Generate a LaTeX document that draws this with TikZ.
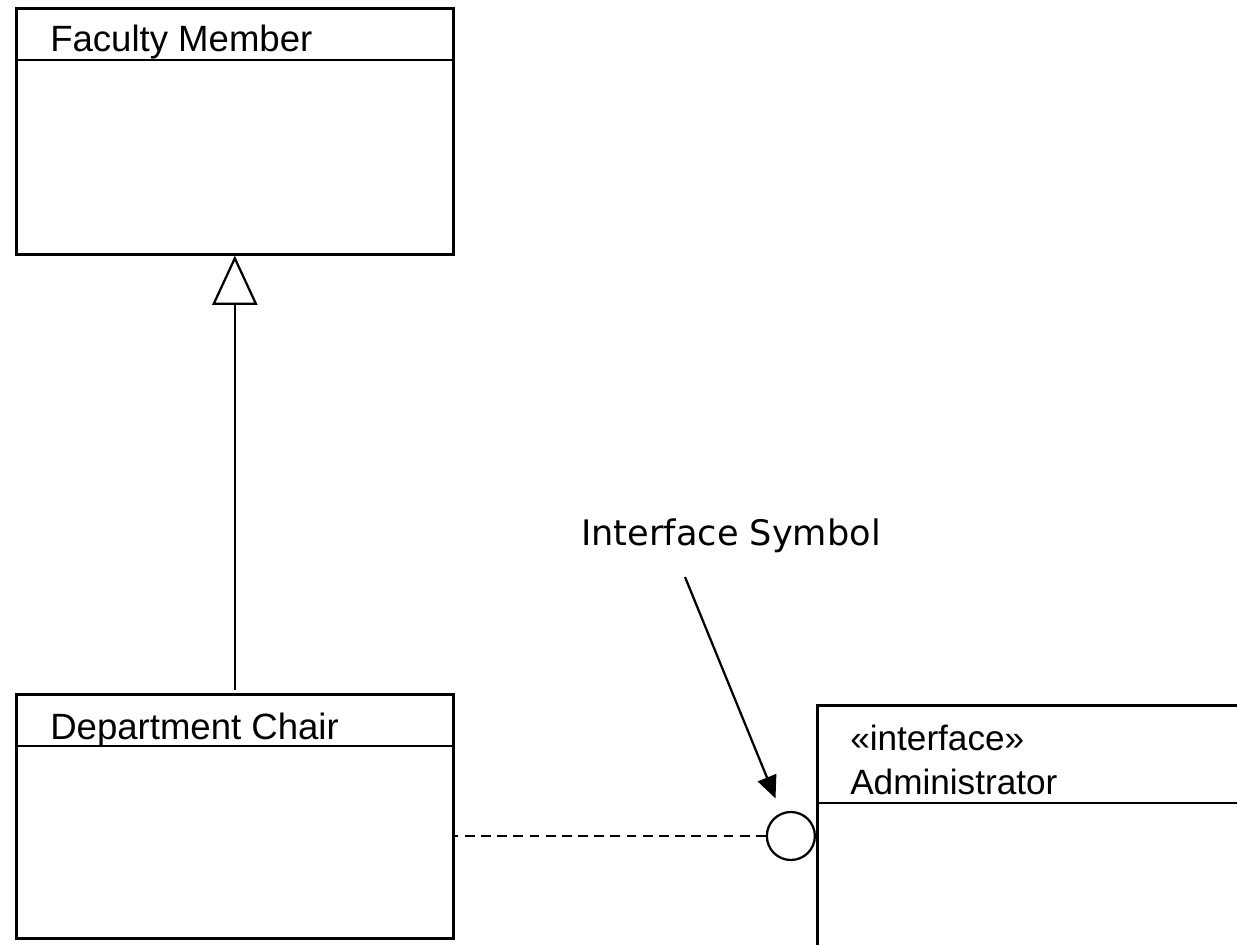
\documentclass[tikz,border=0pt]{standalone}
\usepackage{fontspec}
\setmainfont{Liberation Sans}
\newfontfamily\notefont{DejaVu Sans}
\usetikzlibrary{calc,arrows.meta}

\tikzset{
  classbox/.style={draw,line width=1.8pt,inner sep=0pt,anchor=north west},
  classname/.style={anchor=base west,inner sep=0pt,font=\fontsize{26}{30}\selectfont},
  divider/.style={line width=1.8pt},
}

\begin{document}
\begin{tikzpicture}[x=0.025cm,y=-0.025cm]
\path[use as bounding box] (0,0) rectangle (1237,945);

% Classe Faculty Member
\node[classbox,minimum width=10.925cm,minimum height=6.15cm] (fac) at (15,7) {};
\draw[divider] ($(fac.north west)+(0,53)$) -- ($(fac.north east)+(0,53)$);
\node[classname] (facname) at (50,52) {Faculty Member};

% Classe Department Chair
\node[classbox,minimum width=10.925cm,minimum height=6.1cm] (dept) at (15,693) {};
\draw[divider] ($(dept.north west)+(0,53)$) -- ($(dept.north east)+(0,53)$);
\node[classname] (deptname) at (50,739) {Department Chair};

% Interface Administrator (coupée par le bord)
\node[classbox,minimum width=11.25cm,minimum height=6.5cm] (admin) at (816,704) {};
\draw[divider] ($(admin.north west)+(0,99)$) -- ($(admin.north east)+(0,99)$);
\node[classname,font=\fontsize{25}{31}\selectfont,align=left,anchor=north west] (adminname) at (850,725) {«interface»\\Administrator};

% Symbole d'interface (sucette)
\node[circle,draw,line width=1.6pt,minimum size=1.2cm,inner sep=0pt,anchor=east] (iface) at ($(admin.north west)+(0,132)$) {};

% Héritage
\draw[line width=1.6pt,shorten <=2pt,-{Triangle[open,length=35pt,width=32pt,line width=1.6pt]}] (dept.north) -- (fac.south);

% Réalisation
\draw[line width=1.6pt,dash pattern=on 7pt off 4.5pt] (iface.west) -- (iface.west -| dept.east);

% Note
\node[anchor=base west,inner sep=0pt,font=\notefont\fontsize{25}{30}\selectfont] (note) at (581,545) {Interface Symbol};
\coordinate (tail) at (685,577);
\draw[line width=1.6pt,-{Triangle[length=16pt,width=14pt]},shorten >=11pt] (tail) -- (iface);
\end{tikzpicture}
\end{document}
